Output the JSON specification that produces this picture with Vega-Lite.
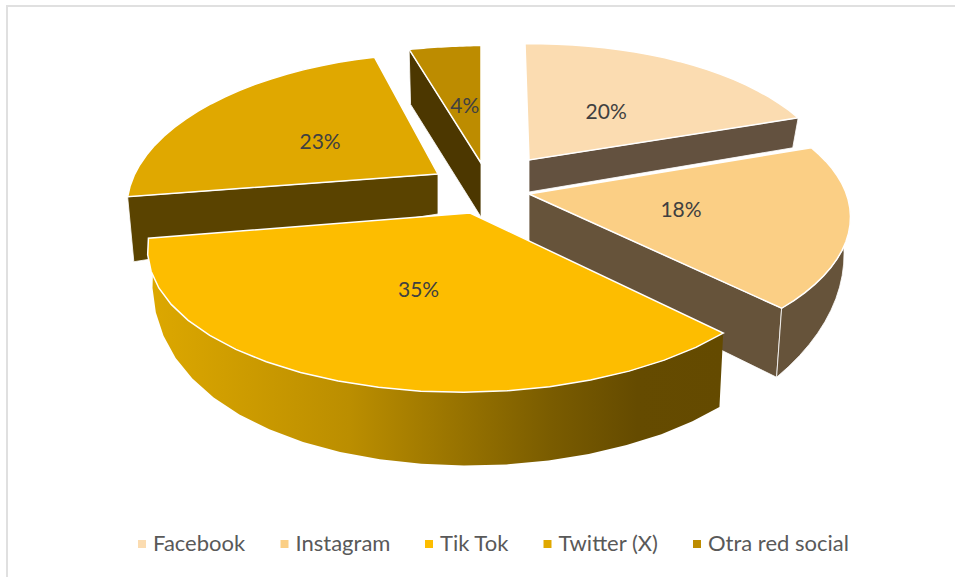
{
  "$schema": "https://vega.github.io/schema/vega-lite/v6.json",
  "width": 960,
  "height": 580,
  "padding": {"left": 7, "top": 6, "right": 0, "bottom": 0},
  "autosize": {"type": "none"},
  "background": "#ffffff",
  "view": {"stroke": "#e0e0e0", "strokeWidth": 2, "fill": "#ffffff"},
  "datasets": {
    "redes": [
      {"slice": "Facebook", "share": 20, "u": [-1,0,0.05,0.1,0.15,0.2,0.25,0.3,0.35,0.4,0.45,0.5,0.55,0.6,0.65,0.7,0.75,0.8,0.85,0.9,0.95,1,1.05,1.1,1.15,1.2,1.25,1.3,1.35,1.4,1.45,1.5,1.55,1.6,1.65,1.7,1.75,1.8,1.85,1.9,1.95,2,2.05], "corner": [0,1,2,3]},
      {"slice": "Instagram", "share": 18, "u": [-1,0,0.05,0.1,0.15,0.2,0.25,0.3,0.35,0.4,0.45,0.5,0.55,0.6,0.65,0.7,0.75,0.8,0.85,0.9,0.95,1,1.05,1.1,1.15,1.2,1.25,1.3,1.35,1.4,1.45,1.5,1.55,1.6,1.65,1.7,1.75,1.8,1.85,1.9,1.95,2,2.05], "corner": [0,1,2,3]},
      {"slice": "Tik Tok", "share": 35, "u": [-1,0,0.05,0.1,0.15,0.2,0.25,0.3,0.35,0.4,0.45,0.5,0.55,0.6,0.65,0.7,0.75,0.8,0.85,0.9,0.95,1,1.05,1.1,1.15,1.2,1.25,1.3,1.35,1.4,1.45,1.5,1.55,1.6,1.65,1.7,1.75,1.8,1.85,1.9,1.95,2,2.05], "corner": [0,1,2,3]},
      {"slice": "Twitter (X)", "share": 23, "u": [-1,0,0.05,0.1,0.15,0.2,0.25,0.3,0.35,0.4,0.45,0.5,0.55,0.6,0.65,0.7,0.75,0.8,0.85,0.9,0.95,1,1.05,1.1,1.15,1.2,1.25,1.3,1.35,1.4,1.45,1.5,1.55,1.6,1.65,1.7,1.75,1.8,1.85,1.9,1.95,2,2.05], "corner": [0,1,2,3]},
      {"slice": "Otra red social", "share": 4, "u": [-1,0,0.05,0.1,0.15,0.2,0.25,0.3,0.35,0.4,0.45,0.5,0.55,0.6,0.65,0.7,0.75,0.8,0.85,0.9,0.95,1,1.05,1.1,1.15,1.2,1.25,1.3,1.35,1.4,1.45,1.5,1.55,1.6,1.65,1.7,1.75,1.8,1.85,1.9,1.95,2,2.05], "corner": [0,1,2,3]}
    ]
  },
  "data": {"name": "redes"},
  "transform": [
    {"window": [{"op": "sum", "field": "share", "as": "end"}], "frame": [null, 0]},
    {"calculate": "datum.end - datum.share", "as": "start"},
    {"calculate": "{'Facebook':529,'Instagram':529,'Tik Tok':470,'Twitter (X)':438,'Otra red social':481}[datum.slice]", "as": "ax"},
    {"calculate": "{'Facebook':160,'Instagram':194,'Tik Tok':213,'Twitter (X)':174,'Otra red social':163}[datum.slice]", "as": "ay"},
    {"calculate": "{'Facebook':305,'Instagram':314,'Tik Tok':316,'Twitter (X)':305,'Otra red social':345}[datum.slice]", "as": "rx"},
    {"calculate": "{'Facebook':143,'Instagram':140,'Tik Tok':141,'Twitter (X)':145,'Otra red social':141}[datum.slice]", "as": "ry"},
    {"calculate": "{'Facebook':-4,'Instagram':1,'Tik Tok':0,'Twitter (X)':0,'Otra red social':0}[datum.slice]", "as": "ox"},
    {"calculate": "{'Facebook':3,'Instagram':-2,'Tik Tok':3,'Twitter (X)':0,'Otra red social':0}[datum.slice]", "as": "oy"}
  ],
  "encoding": {
    "x": {"field": "x", "type": "quantitative", "scale": {"domain": [7, 967], "nice": false, "zero": false}, "axis": null},
    "y": {"field": "y", "type": "quantitative", "scale": {"domain": [586, 6], "nice": false, "zero": false}, "axis": null}
  },
  "layer": [
    {
      "transform": [
        {"filter": "datum.slice !== 'Tik Tok'"},
        {"flatten": ["corner"]},
        {"calculate": "2 * PI * (datum.slice === 'Facebook' || datum.slice === 'Instagram' ? datum.end : datum.start) / 100", "as": "a"},
        {"calculate": "1 / (1 + 0.2 * cos(datum.a))", "as": "s"},
        {"calculate": "datum.corner === 1 || datum.corner === 2", "as": "far"},
        {"calculate": "datum.corner >= 2", "as": "low"},
        {"calculate": "{'Facebook':32,'Instagram':62,'Twitter (X)':40,'Otra red social':54}[datum.slice]", "as": "dApex"},
        {"calculate": "{'Facebook':30,'Instagram':69,'Twitter (X)':65,'Otra red social':55}[datum.slice]", "as": "dTip"},
        {"calculate": "datum.ax + (datum.far ? datum.ox + datum.rx * sin(datum.a) * datum.s * (datum.low ? 0.98 : 1) : 0)", "as": "x"},
        {"calculate": "datum.ay + (datum.far ? datum.oy - datum.ry * cos(datum.a) * datum.s - 4 * sin(datum.a) * datum.s : 0) + (datum.low ? (datum.far ? datum.dTip : datum.dApex) : 0)", "as": "y"}
      ],
      "mark": {"type": "line", "interpolate": "linear-closed", "stroke": "#ffffff", "strokeWidth": 1, "strokeOpacity": 0.8},
      "encoding": {
        "order": {"field": "corner", "type": "quantitative"},
        "fill": {
          "field": "slice", "type": "nominal", "legend": null,
          "scale": {
            "domain": ["Facebook", "Instagram", "Twitter (X)", "Otra red social"],
            "range": ["#63513f", "#66533a", "#5a4300", "#4c3700"]
          }
        }
      }
    },
    {
      "transform": [
        {"filter": "datum.slice === 'Instagram'"},
        {"flatten": ["u"]},
        {"filter": "datum.u >= 0"},
        {"calculate": "datum.u <= 1 ? datum.u : 2.05 - datum.u", "as": "t"},
        {"calculate": "datum.u > 1", "as": "low"},
        {"calculate": "2 * PI * (datum.start + datum.t * datum.share) / 100", "as": "a"},
        {"calculate": "1 / (1 + 0.2 * cos(datum.a))", "as": "s"},
        {"calculate": "10 + 59 * datum.t", "as": "depth"},
        {"calculate": "datum.ax + datum.ox + datum.rx * sin(datum.a) * datum.s * (datum.low ? 0.98 : 1)", "as": "x"},
        {"calculate": "datum.ay + datum.oy - datum.ry * cos(datum.a) * datum.s - 4 * sin(datum.a) * datum.s + (datum.low ? datum.depth : 0)", "as": "y"}
      ],
      "mark": {"type": "line", "interpolate": "linear-closed", "stroke": "#ffffff", "strokeWidth": 1, "strokeOpacity": 0.8, "fill": "#66533a"},
      "encoding": {"order": {"field": "u", "type": "quantitative"}}
    },
    {
      "transform": [
        {"filter": "datum.slice === 'Tik Tok'"},
        {"flatten": ["u"]},
        {"filter": "datum.u >= 0"},
        {"calculate": "datum.u <= 1 ? datum.u : 2.05 - datum.u", "as": "t"},
        {"calculate": "datum.u > 1", "as": "low"},
        {"calculate": "2 * PI * (datum.start + datum.t * datum.share) / 100", "as": "a"},
        {"calculate": "1 / (1 + 0.2 * cos(datum.a))", "as": "s"},
        {"calculate": "74 - 50 * pow(datum.t, 4)", "as": "depth"},
        {"calculate": "datum.ax + datum.ox + datum.rx * sin(datum.a) * datum.s * (datum.low ? 0.985 : 1)", "as": "x"},
        {"calculate": "datum.ay + datum.oy - datum.ry * cos(datum.a) * datum.s - 4 * sin(datum.a) * datum.s + (datum.low ? datum.depth : 0)", "as": "y"}
      ],
      "mark": {
        "type": "line", "interpolate": "linear-closed", "strokeWidth": 0,
        "fill": {
          "gradient": "linear", "x1": 0, "y1": 0, "x2": 1, "y2": 0,
          "stops": [
            {"offset": 0, "color": "#dda800"},
            {"offset": 0.35, "color": "#bb8e00"},
            {"offset": 0.7, "color": "#7a5c00"},
            {"offset": 0.85, "color": "#654b00"},
            {"offset": 1, "color": "#644a00"}
          ]
        }
      },
      "encoding": {"order": {"field": "u", "type": "quantitative"}}
    },
    {
      "transform": [
        {"flatten": ["u"]},
        {"filter": "datum.u <= 1"},
        {"calculate": "max(datum.u, 0)", "as": "t"},
        {"calculate": "2 * PI * (datum.start + datum.t * datum.share) / 100", "as": "a"},
        {"calculate": "1 / (1 + 0.2 * cos(datum.a))", "as": "s"},
        {"calculate": "datum.u < 0 ? datum.ax : datum.ax + datum.ox + datum.rx * sin(datum.a) * datum.s", "as": "x"},
        {"calculate": "datum.u < 0 ? datum.ay : datum.ay + datum.oy - datum.ry * cos(datum.a) * datum.s - 4 * sin(datum.a) * datum.s", "as": "y"}
      ],
      "mark": {"type": "line", "interpolate": "linear-closed", "stroke": "#ffffff", "strokeWidth": 1.5},
      "encoding": {
        "order": {"field": "u", "type": "quantitative"},
        "fill": {
          "field": "slice", "type": "nominal",
          "scale": {
            "domain": ["Facebook", "Instagram", "Tik Tok", "Twitter (X)", "Otra red social"],
            "range": ["#fbdcb1", "#fbcf85", "#fdbd00", "#e0a800", "#bd8c00"]
          },
          "legend": {
            "title": null, "orient": "none", "direction": "horizontal", "columns": 5,
            "legendX": 124, "legendY": 527,
            "symbolType": "square", "symbolSize": 64, "symbolStrokeWidth": 0,
            "labelFont": "Lato", "labelFontSize": 22, "labelColor": "#595959", "labelOffset": 0,
            "columnPadding": 27.5, "labelLimit": 300
          }
        }
      }
    },
    {
      "transform": [
        {"calculate": "2 * PI * (datum.start + datum.share / 2) / 100", "as": "a"},
        {"calculate": "1 / (1 + 0.2 * cos(datum.a))", "as": "s"},
        {"calculate": "{'Facebook':0.5,'Instagram':0.475,'Tik Tok':0.39,'Twitter (X)':0.52,'Otra red social':0.45}[datum.slice]", "as": "f"},
        {"calculate": "{'Facebook':3,'Instagram':0,'Tik Tok':14,'Twitter (X)':7,'Otra red social':-3}[datum.slice]", "as": "dy"},
        {"calculate": "datum.ax + datum.f * datum.rx * sin(datum.a) * datum.s", "as": "x"},
        {"calculate": "datum.ay - datum.f * datum.ry * cos(datum.a) * datum.s + datum.dy", "as": "y"},
        {"calculate": "datum.share + '%'", "as": "etiqueta"}
      ],
      "mark": {"type": "text", "font": "Lato", "fontSize": 21, "color": "#404040", "align": "center", "baseline": "middle"},
      "encoding": {"text": {"field": "etiqueta", "type": "nominal"}}
    }
  ],
  "resolve": {"scale": {"fill": "independent"}}
}
